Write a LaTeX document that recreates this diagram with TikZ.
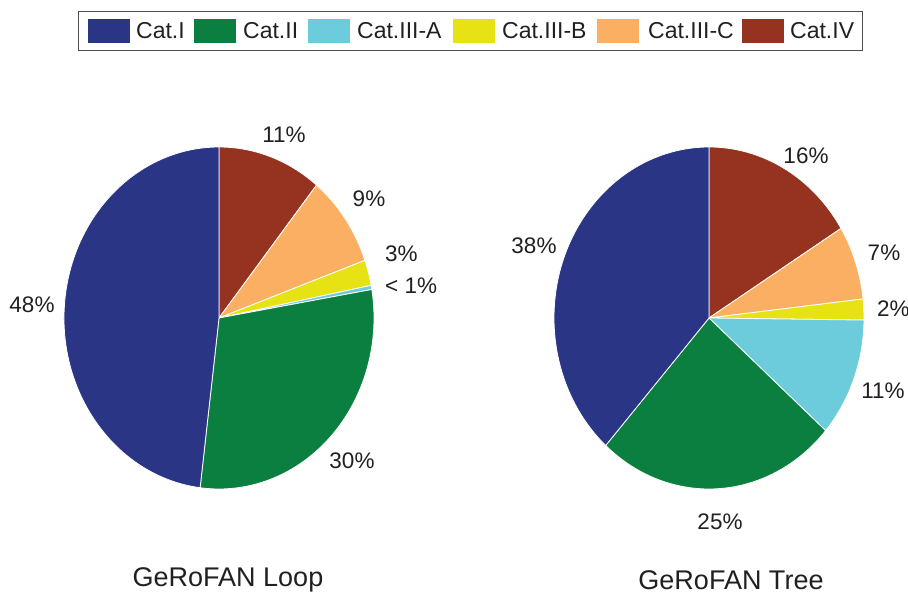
\documentclass[tikz,border=0pt]{standalone}
\usepackage{fontspec}
\setmainfont{Liberation Sans}
\definecolor{cI}{HTML}{2A3586}
\definecolor{cII}{HTML}{0A7F3F}
\definecolor{cIIIA}{HTML}{6CCCDC}
\definecolor{cIIIB}{HTML}{E6E214}
\definecolor{cIIIC}{HTML}{FBAF63}
\definecolor{cIV}{HTML}{963220}
\definecolor{txt}{HTML}{231F20}
\newcommand\pieslice[4]{%
  \path[fill=#4, draw=white, line width=0.8pt, line join=round] (#1) -- ++(#2:155pt and 171pt)
    arc[start angle=#2, end angle=#3, x radius=155pt, y radius=171pt] -- cycle;}
\begin{document}
\begin{tikzpicture}[x=1pt,y=1pt,
  pct/.style={text=txt, font=\fontsize{22.5}{26}\selectfont, inner sep=0pt},
  ttl/.style={text=txt, font=\fontsize{27}{30}\selectfont, inner sep=0pt},
  leg/.style={text=txt, font=\fontsize{23}{26}\selectfont, inner sep=0pt, anchor=west},
  swatch/.style={minimum width=42pt, minimum height=24pt, inner sep=0pt, anchor=west, draw=none}]
\useasboundingbox (0,0) rectangle (908,594);
% legend
\node[draw=txt!80, line width=1.3pt, minimum width=784pt, minimum height=39pt, inner sep=0pt, anchor=south west] (legbox) at (78,543) {};
\node[swatch, fill=cI] (s1) at (88,563) {};
\node[leg] (l1) at (136,563) {Cat.I};
\node[swatch, fill=cII] (s2) at (194,563) {};
\node[leg] (l2) at (243,563) {Cat.II};
\node[swatch, fill=cIIIA] (s3) at (308,563) {};
\node[leg] (l3) at (357,563) {Cat.III-A};
\node[swatch, fill=cIIIB] (s4) at (453,563) {};
\node[leg] (l4) at (502,563) {Cat.III-B};
\node[swatch, fill=cIIIC] (s5) at (597,563) {};
\node[leg] (l5) at (648,563) {Cat.III-C};
\node[swatch, fill=cIV] (s6) at (742,563) {};
\node[leg] (l6) at (790,563) {Cat.IV};
% pie 1
\coordinate (p1) at (219,276);
\pieslice{p1}{90}{51}{cIV}
\pieslice{p1}{51}{19.7}{cIIIC}
\pieslice{p1}{19.7}{11}{cIIIB}
\pieslice{p1}{11}{9.6}{cIIIA}
\pieslice{p1}{9.6}{-97}{cII}
\pieslice{p1}{-97}{-270}{cI}
% pie 2
\coordinate (p2) at (709,276);
\pieslice{p2}{90}{31.6}{cIV}
\pieslice{p2}{31.6}{6.4}{cIIIC}
\pieslice{p2}{6.4}{-0.7}{cIIIB}
\pieslice{p2}{-0.7}{-41.2}{cIIIA}
\pieslice{p2}{-41.2}{-131.8}{cII}
\pieslice{p2}{-131.8}{-270}{cI}
% labels pie 1
\node[pct] (a1) at (284,459) {11\%};
\node[pct] (a2) at (369,395) {9\%};
\node[pct, anchor=west] (a3) at (385,340) {3\%};
\node[pct, anchor=west] (a4) at (385,308) {<~1\%};
\node[pct] (a5) at (352,133) {30\%};
\node[pct] (a6) at (32,289) {48\%};
% labels pie 2
\node[pct] (b1) at (806,438) {16\%};
\node[pct] (b2) at (884,341) {7\%};
\node[pct, anchor=west] (b3) at (877,285) {2\%};
\node[pct] (b4) at (883,203) {11\%};
\node[pct] (b5) at (720,72) {25\%};
\node[pct] (b6) at (534,348) {38\%};
% titles
\node[ttl] (t1) at (228,14) {GeRoFAN Loop};
\node[ttl] (t2) at (731,14) {GeRoFAN Tree};
\end{tikzpicture}
\end{document}
